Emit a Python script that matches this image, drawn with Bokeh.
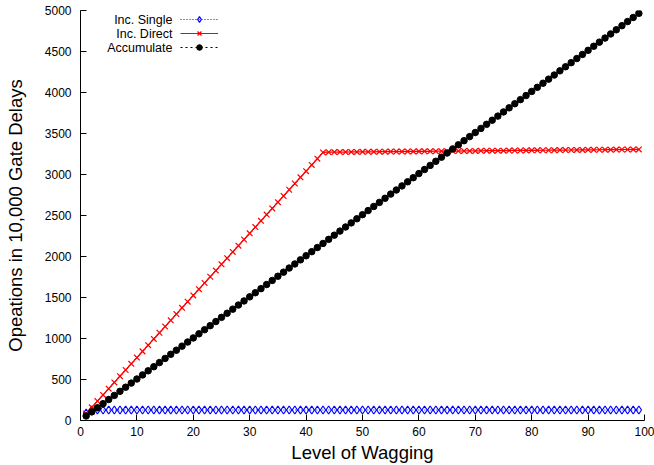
from bokeh.plotting import figure
from bokeh.models import Legend, LegendItem, Label, FixedTicker, Range1d
from bokeh.embed import file_html
from bokeh.resources import INLINE

level = list(range(1, 100))

inc_single = [90] + [128] * 98

inc_direct = [85, 161, 237, 312, 388, 464, 540, 616, 691, 767, 843, 919, 995, 1070,
              1146, 1222, 1298, 1374, 1449, 1525, 1601, 1677, 1753, 1828, 1904, 1980,
              2056, 2132, 2207, 2283, 2359, 2435, 2511, 2586, 2662, 2738, 2814, 2890,
              2965, 3041, 3117, 3193, 3269,
              3272, 3273, 3273, 3274, 3275, 3275, 3276, 3276, 3277, 3278, 3278, 3279,
              3280, 3280, 3281, 3281, 3282, 3283, 3283, 3284, 3285, 3285, 3286, 3286,
              3287, 3288, 3288, 3289, 3290, 3290, 3291, 3291, 3292, 3293, 3293, 3294,
              3295, 3295, 3296, 3296, 3297, 3298, 3298, 3299, 3300, 3300, 3301, 3301,
              3302, 3303, 3303, 3304, 3305, 3305, 3306, 3306]

accumulate = [55, 105, 155, 205, 256, 306, 356, 406, 456, 506, 556, 606, 656, 706, 757,
              807, 857, 907, 957, 1007, 1057, 1107, 1157, 1207, 1258, 1308, 1358, 1408,
              1458, 1508, 1558, 1608, 1658, 1708, 1759, 1809, 1859, 1909, 1959, 2009,
              2059, 2109, 2159, 2209, 2260, 2310, 2360, 2410, 2460, 2510, 2560, 2610,
              2660, 2710, 2761, 2811, 2861, 2911, 2961, 3011, 3061, 3111, 3161, 3211,
              3262, 3312, 3362, 3412, 3462, 3512, 3562, 3612, 3662, 3712, 3763, 3813,
              3863, 3913, 3963, 4013, 4063, 4113, 4163, 4213, 4264, 4314, 4364, 4414,
              4464, 4514, 4564, 4614, 4664, 4714, 4765, 4815, 4865, 4915, 4965]

series_names = ["Inc. Single", "Inc. Direct", "Accumulate"]
x_ticks = list(range(0, 101, 10))
y_ticks = list(range(0, 5001, 500))

FONT = "Liberation Sans"

p = figure(width=654, height=465, output_backend="svg", toolbar_location=None,
           x_range=Range1d(0, 100), y_range=Range1d(0, 5000),
           min_border_left=80, min_border_right=10, min_border_top=10, min_border_bottom=43)
p.outline_line_color = None
p.grid.visible = False
p.background_fill_color = "white"
p.border_fill_color = "white"

# series
r_single_l = p.line(level, inc_single, line_color="#0000ff", line_dash="1 2", line_width=1)
r_single_m = p.scatter(level, inc_single, marker="diamond", size=8, line_color="#0000ff",
                       fill_color=None, line_width=1.2)
r_direct_l = p.line(level, inc_direct, line_color="#ff0000", line_width=1.2)
r_direct_m = p.scatter(level, inc_direct, marker="x", size=8, line_color="#ff0000",
                       line_width=1.2)
r_acc_l = p.line(level, accumulate, line_color="black", line_dash="2 3", line_width=1)
r_acc_m = p.scatter(level, accumulate, marker="circle", size=6.5, fill_color="black",
                    line_color="black")

# axes
for ax in (p.xaxis[0], p.yaxis[0]):
    ax.major_tick_in = 6
    ax.major_tick_out = 0
    ax.minor_tick_in = 0
    ax.minor_tick_out = 0
    ax.axis_line_color = "black"
    ax.axis_line_width = 1
    ax.major_tick_line_color = "black"
    ax.major_label_text_font = FONT
    ax.major_label_text_font_size = "12px"
    ax.major_label_text_color = "black"
    ax.axis_label_text_font = FONT
    ax.axis_label_text_font_style = "normal"
    ax.axis_label_text_color = "black"
    ax.axis_label_text_font_size = "18.5px"

p.xaxis.ticker = FixedTicker(ticks=x_ticks)
p.yaxis.ticker = FixedTicker(ticks=y_ticks)
p.xaxis.major_label_standoff = 6
p.yaxis.major_label_standoff = 9
p.xaxis.axis_label = "Level of Wagging"
p.yaxis.axis_label = "Opeations in 10,000 Gate Delays"
p.xaxis.axis_label_standoff = 3
p.yaxis.axis_label_standoff = 16

# legend (gnuplot style: text to the left of the sample)
items = [LegendItem(label=" ", renderers=[r_single_l, r_single_m]),
         LegendItem(label=" ", renderers=[r_direct_l, r_direct_m]),
         LegendItem(label=" ", renderers=[r_acc_l, r_acc_m])]
legend = Legend(items=items, location=(100, 366), padding=0, margin=0, spacing=0,
                glyph_width=38, glyph_height=14, label_height=14, label_width=0,
                label_standoff=0, label_text_font_size="1px",
                border_line_color=None, background_fill_alpha=0)
p.add_layout(legend, "center")

for i, name in enumerate(series_names):
    p.add_layout(Label(x=92, y=401 - 14 * i, x_units="screen", y_units="screen",
                       text=name, text_align="right", text_baseline="middle",
                       text_font=FONT, text_font_size="12.5px", text_color="black"))

open("out.html", "w").write(file_html(p, INLINE))
